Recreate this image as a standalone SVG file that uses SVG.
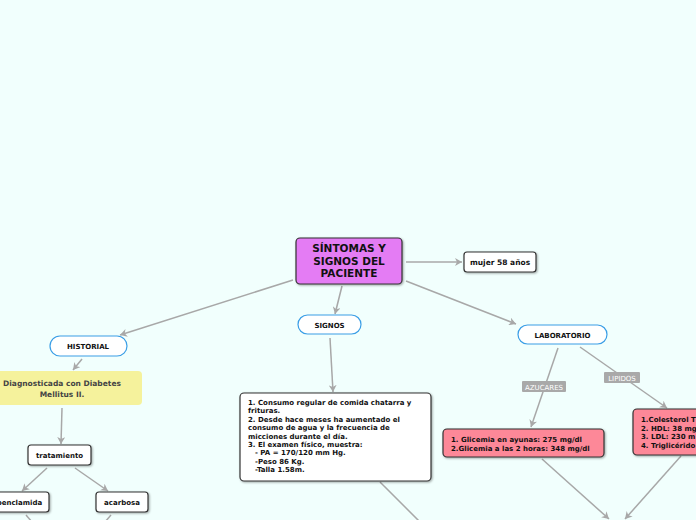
<svg xmlns="http://www.w3.org/2000/svg" width="696" height="520" viewBox="0 0 696 520">
<defs>
<marker id="ah" markerWidth="8" markerHeight="8" refX="7" refY="4" orient="auto" markerUnits="userSpaceOnUse">
<path d="M0,0 L7,4 L0,8 L2,4 Z" fill="#a8a8a8"/>
</marker>
<filter id="sh" x="-10%" y="-10%" width="130%" height="140%">
<feDropShadow dx="1" dy="1" stdDeviation="0.8" flood-color="#000" flood-opacity="0.35"/>
</filter>
</defs>
<style>
text{font-family:"DejaVu Sans","Liberation Sans",sans-serif;font-weight:bold;fill:#111;}
.c{text-anchor:middle;}
.t8{font-size:7.5px;}
.t7{font-size:7px;}
.bx{fill:#fff;stroke:#333;stroke-width:1.2;filter:url(#sh);}
.bl{fill:#fff;stroke:#3a9ee6;stroke-width:1.2;}
.pk{fill:#fd8898;stroke:#333;stroke-width:1.2;filter:url(#sh);}
.ln{stroke:#a8a8a8;stroke-width:1.5;fill:none;}
.lbl{fill:#a9a9a9;}
.lt{fill:#fff;font-weight:normal;font-size:7px;text-anchor:middle;}
</style>
<rect width="696" height="520" fill="#f1fffd"/>
<g id="connectors">
<line class="ln" x1="406" y1="262" x2="462" y2="262" marker-end="url(#ah)"/>
<line class="ln" x1="293" y1="280" x2="120" y2="335" marker-end="url(#ah)"/>
<line class="ln" x1="342" y1="286" x2="335" y2="314" marker-end="url(#ah)"/>
<line class="ln" x1="406" y1="281" x2="516" y2="324" marker-end="url(#ah)"/>
<line class="ln" x1="82" y1="359" x2="73" y2="370" marker-end="url(#ah)"/>
<line class="ln" x1="62" y1="408" x2="61" y2="444" marker-end="url(#ah)"/>
<line class="ln" x1="47" y1="468" x2="22" y2="491" marker-end="url(#ah)"/>
<line class="ln" x1="75" y1="468" x2="108" y2="491" marker-end="url(#ah)"/>
<line class="ln" x1="26" y1="515" x2="32" y2="522"/>
<line class="ln" x1="111" y1="515" x2="105" y2="522"/>
<line class="ln" x1="330" y1="338" x2="333" y2="392" marker-end="url(#ah)"/>
<line class="ln" x1="380" y1="482" x2="420" y2="522"/>
<line class="ln" x1="558" y1="348" x2="531" y2="427" marker-end="url(#ah)"/>
<line class="ln" x1="580" y1="347" x2="667" y2="408" marker-end="url(#ah)"/>
<line class="ln" x1="542" y1="459" x2="609" y2="519" marker-end="url(#ah)"/>
<line class="ln" x1="681" y1="456" x2="625" y2="519" marker-end="url(#ah)"/>
<g id="lbl-azucares"><rect class="lbl" x="522" y="381" width="44" height="11" rx="1"/><text class="lt" x="544" y="389.5">AZUCARES</text></g>
<g id="lbl-lipidos"><rect class="lbl" x="604" y="372" width="36" height="11" rx="1"/><text class="lt" x="622" y="380.5">LIPIDOS</text></g>
</g>
<g id="central">
<rect x="296" y="238" width="106" height="46" rx="4" fill="#e47cf4" stroke="#333" stroke-width="1.2" filter="url(#sh)"/>
<text class="c" x="349" y="252" font-size="10.5">SÍNTOMAS Y</text>
<text class="c" x="349" y="264.5" font-size="10.5">SIGNOS DEL</text>
<text class="c" x="349" y="277" font-size="10.5">PACIENTE</text>
</g>
<g id="mujer">
<rect class="bx" x="464" y="252" width="72" height="20" rx="3"/>
<text class="c t8" x="500" y="265">mujer 58 años</text>
</g>
<g id="historial">
<rect class="bl" x="50" y="336" width="77" height="20" rx="10"/>
<text class="c t7" x="88" y="349">HISTORIAL</text>
</g>
<g id="diagnosticada">
<rect x="-10" y="371" width="152" height="34" rx="4" fill="#f5f29c"/>
<text class="c t8" x="62" y="386" style="fill:#444">Diagnosticada con Diabetes</text>
<text class="c t8" x="62" y="397" style="fill:#444">Mellitus II.</text>
</g>
<g id="tratamiento">
<rect class="bx" x="28" y="445" width="63" height="20" rx="3"/>
<text class="c t7" x="59.5" y="458">tratamiento</text>
</g>
<g id="glibenclamida">
<rect class="bx" x="-20" y="492" width="69" height="20" rx="3"/>
<text class="c t7" x="14.5" y="505">glibenclamida</text>
</g>
<g id="acarbosa">
<rect class="bx" x="96" y="492" width="52" height="20" rx="3"/>
<text class="c t7" x="122" y="505">acarbosa</text>
</g>
<g id="signos">
<rect class="bl" x="298" y="315" width="63" height="19" rx="9.5"/>
<text class="c t7" x="329.5" y="328">SIGNOS</text>
</g>
<g id="signos-detalle">
<rect class="bx" x="240" y="393" width="191" height="88" rx="4"/>
<text class="t7" x="248" y="405">1. Consumo regular de comida chatarra y</text>
<text class="t7" x="248" y="413.4">frituras.</text>
<text class="t7" x="248" y="421.8">2. Desde hace meses ha aumentado el</text>
<text class="t7" x="248" y="430.2">consumo de agua y la frecuencia de</text>
<text class="t7" x="248" y="438.6">micciones durante el día.</text>
<text class="t7" x="248" y="447">3. El examen físico, muestra:</text>
<text class="t7" x="255" y="455.4">- PA = 170/120 mm Hg.</text>
<text class="t7" x="255" y="463.8">-Peso 86 Kg.</text>
<text class="t7" x="255" y="472.2">-Talla 1.58m.</text>
</g>
<g id="laboratorio">
<rect class="bl" x="518" y="325" width="89" height="19" rx="9.5"/>
<text class="c t7" x="562.5" y="338">LABORATORIO</text>
</g>
<g id="glicemia">
<rect class="pk" x="443" y="429" width="161" height="28" rx="4"/>
<text class="t7" x="451" y="441.5">1. Glicemia en ayunas: 275 mg/dl</text>
<text class="t7" x="451" y="450.5">2.Glicemia a las 2 horas: 348 mg/dl</text>
</g>
<g id="lipidos">
<rect class="pk" x="633" y="409" width="80" height="46" rx="4"/>
<text class="t7" x="641" y="422">1.Colesterol T</text>
<text class="t7" x="641" y="430.5">2. HDL: 38 mg</text>
<text class="t7" x="641" y="439">3. LDL: 230 m</text>
<text class="t7" x="641" y="447.5">4. Triglicérido</text>
</g>
</svg>
